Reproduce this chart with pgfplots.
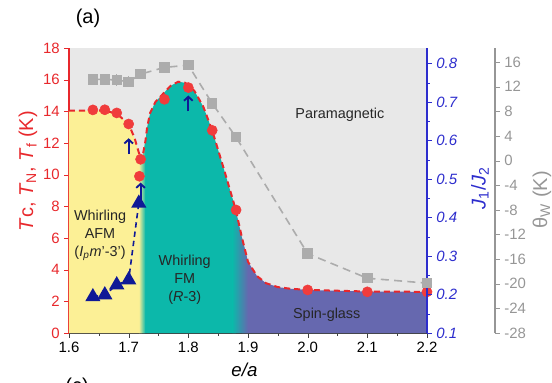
\documentclass[border=0pt]{standalone}
\usepackage{pgfplots}
\pgfplotsset{compat=1.18}
\usepackage{fontspec}
\setmainfont{Liberation Sans}
\usetikzlibrary{arrows.meta}
\definecolor{redc}{RGB}{232,40,44}
\definecolor{redm}{RGB}{240,60,60}
\definecolor{bluec}{RGB}{45,45,205}
\definecolor{bluem}{RGB}{15,25,150}
\definecolor{grayc}{RGB}{150,150,150}
\definecolor{graym}{RGB}{172,172,172}
\definecolor{bgc}{RGB}{232,232,232}
\definecolor{yel}{RGB}{252,240,150}
\definecolor{tea}{RGB}{12,184,170}
\definecolor{pur}{RGB}{102,104,175}
\begin{document}
\begin{tikzpicture}
\useasboundingbox (-51.75pt,-36.75pt) rectangle (362.25pt,249.75pt);
\pgfplotsset{every axis/.append style={scale only axis, width=268.5pt, height=213.75pt,
  at={(0pt,0pt)}, anchor=south west, xmin=1.6, xmax=2.2,
  /pgf/number format/assume math mode=true,
  tick label style={font=\fontsize{11.2}{13}\selectfont},
  tick align=outside, major tick length=3.5pt, minor tick length=2pt}}
% ---------- main axis (T) ----------
\begin{axis}[
  ymin=0, ymax=18,
  axis x line*=bottom, axis y line*=left,
  xtick={1.6,1.7,1.8,1.9,2.0,2.1,2.2},
  xticklabels={1.6,1.7,1.8,1.9,2.0,2.1,2.2},
  minor x tick num=1,
  ytick={0,2,4,6,8,10,12,14,16,18},
  axis background/.style={fill=bgc},
  x axis line style={black!75, line width=0.6pt},
  y axis line style={redc, line width=0.8pt},
  xtick style={black!75}, ytick style={redc},
  yticklabel style={redc},
  xlabel={\textit{e/a}},
  xlabel style={at={(axis description cs:0.49,-0.13)}, anchor=center, font=\fontsize{14}{16}\selectfont},
  ylabel={\textit{T}c, \textit{T}\textsubscript{N}, \textit{T}\textsubscript{f} (K)},
  ylabel style={at={(axis description cs:-0.1145,0.568)}, anchor=center, font=\fontsize{15}{18}\selectfont, redc},
]
% phase regions
\addplot[draw=none, fill=yel] coordinates {(1.600,0)(1.600,14.05)(1.640,14.05)(1.660,14.05)(1.680,13.85)(1.700,13.20)(1.710,12.30)(1.717,11.40)(1.722,10.90)(1.722,0)} \closedcycle;
\addplot[draw=none, fill=tea] coordinates {(1.722,0)(1.722,10.90)(1.728,12.10)(1.731,13.0)(1.736,13.9)(1.745,14.6)(1.760,15.2)(1.770,15.6)(1.783,15.87)(1.795,15.8)(1.810,15.3)(1.825,14.3)(1.840,12.8)(1.860,10.3)(1.874,8.5)(1.880,7.7)(1.880,0)} \closedcycle;
\addplot[draw=none, fill=pur] coordinates {(1.890,0)(1.890,6.0)(1.900,4.5)(1.915,3.6)(1.930,3.15)(1.950,2.9)(1.970,2.8)(2.000,2.72)(2.100,2.62)(2.200,2.60)(2.200,0)} \closedcycle;
\addplot[draw=none, left color=yel, right color=tea] coordinates {(1.717,0)(1.717,11.40)(1.722,10.90)(1.728,12.10)(1.728,0)} \closedcycle;
\addplot[draw=none, left color=tea, right color=pur] coordinates {(1.874,0)(1.874,8.5)(1.880,7.7)(1.890,6.0)(1.900,4.5)(1.900,0)} \closedcycle;
% boundary
\addplot[redc, line width=1.5pt, dash pattern=on 4.5pt off 3pt] coordinates {(1.600,14.05)(1.640,14.05)(1.660,14.05)(1.680,13.85)(1.700,13.20)(1.710,12.30)(1.717,11.40)(1.722,10.90)(1.728,12.10)(1.731,13.0)(1.736,13.9)(1.745,14.6)(1.760,15.2)(1.770,15.6)(1.783,15.87)(1.795,15.8)(1.810,15.3)(1.825,14.3)(1.840,12.8)(1.860,10.3)(1.874,8.5)(1.880,7.7)(1.890,6.0)(1.900,4.5)(1.915,3.6)(1.930,3.15)(1.950,2.9)(1.970,2.8)(2.000,2.72)(2.100,2.62)(2.200,2.60)};
% transition temperatures
\addplot[only marks, mark=*, mark size=3.8pt, mark options={draw=redm, fill=redm}] coordinates {(1.64,14.09)(1.66,14.1)(1.68,13.9)(1.70,13.2)(1.72,10.97)(1.718,9.9)(1.76,14.76)(1.80,15.5)(1.84,12.8)(1.88,7.77)(2.0,2.72)(2.1,2.6)(2.2,2.6)};
% arrows
\draw[bluem, line width=1.4pt, -{Straight Barb[length=3pt,width=6.5pt]}] (axis cs:1.70,11.3) -- (axis cs:1.70,12.3);
\draw[bluem, line width=1.4pt, -{Straight Barb[length=3pt,width=6.5pt]}] (axis cs:1.72,8.35) -- (axis cs:1.72,9.5);
\draw[bluem, line width=1.4pt, -{Straight Barb[length=3pt,width=6.5pt]}] (axis cs:1.80,14.0) -- (axis cs:1.80,15.0);
% labels
\node[align=center, font=\fontsize{10.8}{13.5}\selectfont, text=black!85] at (axis cs:2.054,13.77) {Paramagnetic};
\node[align=center, font=\fontsize{10.8}{13.5}\selectfont, text=black!85] at (axis cs:1.652,6.19) {Whirling\\AFM\\(\textit{I}\textsubscript{\textit{p}}\textit{m}'-3')};
\node[align=center, font=\fontsize{10.8}{13.5}\selectfont, text=black!85] at (axis cs:1.794,3.35) {Whirling\\FM\\(\textit{R}-3)};
\node[align=center, font=\fontsize{10.8}{13.5}\selectfont, text=black!85] at (axis cs:2.032,1.14) {Spin-glass};
\end{axis}
% ---------- J1/J2 axis ----------
\begin{axis}[
  ymin=0.1, ymax=0.84,
  axis y line*=right, axis x line=none,
  ytick={0.1,0.2,0.3,0.4,0.5,0.6,0.7,0.8},
  yticklabels={0.1,0.2,0.3,0.4,0.5,0.6,0.7,0.8},
  minor y tick num=1,
  y axis line style={bluec, line width=0.8pt},
  ytick style={bluec},
  yticklabel style={bluec, font=\fontsize{11.2}{13}\selectfont\itshape},
  ylabel={\textit{J}\textsubscript{1}/\textit{J}\textsubscript{2}},
  ylabel style={at={(axis description cs:1.148,0.509)}, anchor=center, font=\fontsize{15}{18}\selectfont, bluec},
]
\addplot[bluem, line width=1.2pt, dash pattern=on 4pt off 3pt, mark=triangle*, mark size=5.4pt, mark options={solid, fill=bluem, draw=bluem}] coordinates {(1.64,0.194)(1.66,0.199)(1.68,0.225)(1.70,0.238)(1.717,0.437)};
\end{axis}
% ---------- theta_W axis ----------
\begin{axis}[
  ymin=-28, ymax=18.3,
  axis y line*=right, axis x line=none,
  ytick={-28,-24,-20,-16,-12,-8,-4,0,4,8,12,16},
  minor y tick num=1,
  y axis line style={grayc, line width=0.8pt, xshift=51pt},
  every y tick/.append style={grayc, xshift=51pt},
  every minor y tick/.append style={grayc, xshift=51pt},
  yticklabel style={grayc, xshift=51pt},
  ylabel={θ\textsubscript{W} (K)},
  ylabel style={at={(axis description cs:1.321,0.467)}, anchor=center, font=\fontsize{15}{18}\selectfont, grayc},
]
\addplot[graym, line width=1.2pt, dash pattern=on 6pt off 4pt, mark=square*, mark size=3.3pt, mark options={solid, fill=graym, draw=graym},
  error bars/.cd, y dir=both, y explicit, error mark=none, error bar style={graym, solid, line width=0.8pt}]
  coordinates {(1.64,13.2) +- (0,0.9) (1.66,13.2) +- (0,0.9) (1.68,13.1) +- (0,0.9) (1.70,12.8) +- (0,0.9) (1.72,14.05) +- (0,0.5) (1.76,15.15) +- (0,0.5) (1.80,15.5) +- (0,0.5) (1.84,9.3) +- (0,0.5) (1.88,3.8) +- (0,0.5) (2.0,-15.1) +- (0,0.6) (2.1,-19.1) +- (0,0.6) (2.2,-19.9) +- (0,0.6)};
\end{axis}
\node[font=\fontsize{15}{18}\selectfont] at (14.25pt,236.25pt) {(a)};
\node[font=\fontsize{15}{18}\selectfont] at (6pt,-40.5pt) {(c)};
\end{tikzpicture}
\end{document}
